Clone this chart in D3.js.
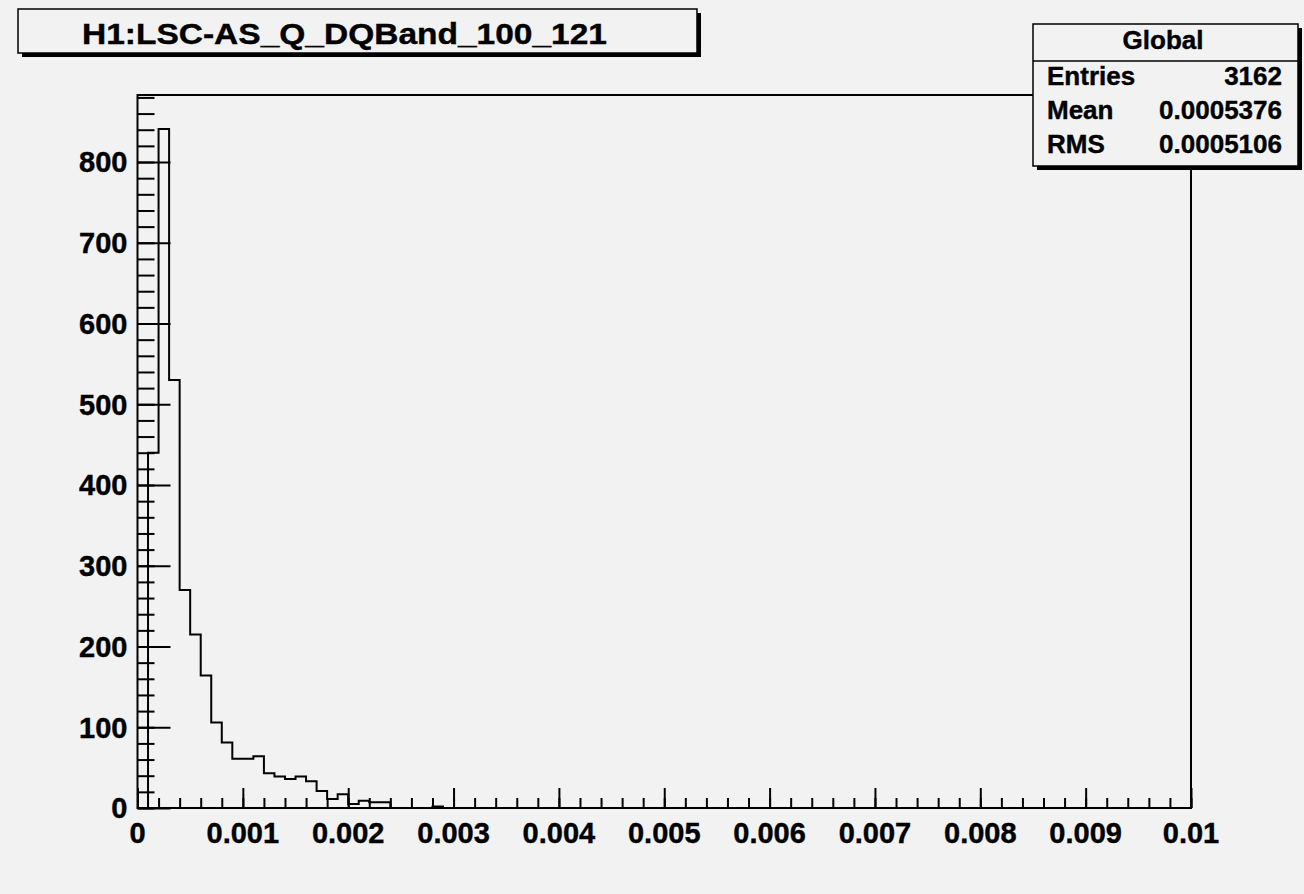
<!DOCTYPE html>
<html>
<head>
<meta charset="utf-8">
<script src="https://cdn.jsdelivr.net/npm/d3@7"></script>
<style>
  html, body { margin: 0; padding: 0; background: #f2f2f2; }
  svg text { font-family: "Liberation Sans", Arial, Helvetica, sans-serif; font-weight: bold; fill: #000; stroke: #000; stroke-width: 0.4; }
</style>
</head>
<body>
<div id="chart"></div>
<script>
// -----------------------------------------------------------------------------
// Data
// -----------------------------------------------------------------------------

var TITLE = "H1:LSC-AS_Q_DQBand_100_121";
var BIN_WIDTH = 0.0001;
var X_MIN = 0, X_MAX = 0.01;
var Y_MAX = 883;

// counts per bin, bins start at 0 and are BIN_WIDTH wide (rest are empty)
var binCounts = [0, 440, 841, 530, 270, 215, 164, 106, 81, 61,
                 61, 64, 43, 39, 36, 39, 33, 21, 11, 17,
                 5, 9, 7, 7, 0, 0, 0, 0, 2, 0];

var xTickValues = [0, 0.001, 0.002, 0.003, 0.004, 0.005, 0.006, 0.007, 0.008, 0.009, 0.01];
var xTickLabels = ["0", "0.001", "0.002", "0.003", "0.004", "0.005", "0.006", "0.007", "0.008", "0.009", "0.01"];
var yTickValues = [0, 100, 200, 300, 400, 500, 600, 700, 800];
var yTickLabels = ["0", "100", "200", "300", "400", "500", "600", "700", "800"];

var statsTitle = "Global";
var statsNames = ["Entries", "Mean", "RMS"];
var statsValues = ["3162", "0.0005376", "0.0005106"];

// -----------------------------------------------------------------------------
// Layout
// -----------------------------------------------------------------------------

var WIDTH = 1304, HEIGHT = 894;
var frame = {left: 137.5, right: 1191, top: 95, bottom: 808};

var svg = d3.select("#chart").append("svg")
    .attr("width", WIDTH)
    .attr("height", HEIGHT);

svg.append("rect")
    .attr("width", WIDTH)
    .attr("height", HEIGHT)
    .attr("fill", "#f2f2f2");

var xScale = d3.scaleLinear()
    .domain([X_MIN, X_MAX])
    .range([frame.left, frame.right]);

var yScale = d3.scaleLinear()
    .domain([0, Y_MAX])
    .range([frame.bottom, frame.top]);

// frame
svg.append("rect")
    .attr("x", frame.left)
    .attr("y", frame.top)
    .attr("width", frame.right - frame.left)
    .attr("height", frame.bottom - frame.top)
    .attr("fill", "none")
    .attr("stroke", "#000")
    .attr("stroke-width", 2);

// minor ticks (5 subdivisions per major)
var yMinor = d3.range(0, Y_MAX, 20);
var xMinor = d3.range(0, 51).map(function(i) { return i * 0.0002; });

// -----------------------------------------------------------------------------
// Axes
// -----------------------------------------------------------------------------

var yAxisMinor = d3.axisRight(yScale)
    .tickValues(yMinor)
    .tickSize(17)
    .tickFormat("");

var yAxisMajor = d3.axisRight(yScale)
    .tickValues(yTickValues)
    .tickSize(33)
    .tickFormat("");

var xAxisMinor = d3.axisTop(xScale)
    .tickValues(xMinor)
    .tickSize(10)
    .tickFormat("");

var xAxisMajor = d3.axisTop(xScale)
    .tickValues(xTickValues)
    .tickSize(20)
    .tickFormat("");

[yAxisMinor, yAxisMajor].forEach(function(ax) {
  svg.append("g")
      .attr("class", "yaxis")
      .attr("transform", "translate(" + frame.left + ",0)")
      .call(ax);
});

[xAxisMinor, xAxisMajor].forEach(function(ax) {
  svg.append("g")
      .attr("class", "xaxis")
      .attr("transform", "translate(0," + frame.bottom + ")")
      .call(ax);
});

svg.selectAll(".yaxis path, .xaxis path").remove();
svg.selectAll(".yaxis line, .xaxis line")
    .attr("stroke", "#000")
    .attr("stroke-width", 2);

// tick labels
svg.append("g").selectAll("text")
    .data(yTickValues)
  .enter().append("text")
    .attr("x", frame.left - 10)
    .attr("y", function(d) { return yScale(d); })
    .attr("dy", "0.36em")
    .attr("text-anchor", "end")
    .attr("font-size", 29)
    .text(function(d, i) { return yTickLabels[i]; });

svg.append("g").selectAll("text")
    .data(xTickValues)
  .enter().append("text")
    .attr("x", function(d) { return xScale(d); })
    .attr("y", 843)
    .attr("text-anchor", "middle")
    .attr("font-size", 29)
    .text(function(d, i) { return xTickLabels[i]; });

// -----------------------------------------------------------------------------
// Histogram outline
// -----------------------------------------------------------------------------

var points = [{x: 0, y: 0}];
binCounts.forEach(function(c, i) {
  points.push({x: i * BIN_WIDTH, y: c});
});
points.push({x: binCounts.length * BIN_WIDTH, y: 0});

var line = d3.line()
    .x(function(d) { return xScale(d.x); })
    .y(function(d) { return yScale(d.y); })
    .curve(d3.curveStepAfter);

svg.append("path")
    .datum(points)
    .attr("d", line)
    .attr("fill", "none")
    .attr("stroke", "#000")
    .attr("stroke-width", 2);

// -----------------------------------------------------------------------------
// Title box
// -----------------------------------------------------------------------------

function shadowBox(x, y, w, h) {
  svg.append("rect")
      .attr("x", x + 4).attr("y", y + 4)
      .attr("width", w).attr("height", h)
      .attr("fill", "#000");
  svg.append("rect")
      .attr("x", x).attr("y", y)
      .attr("width", w).attr("height", h)
      .attr("fill", "#f2f2f2")
      .attr("stroke", "#000")
      .attr("stroke-width", 1.5);
}

shadowBox(18, 9, 679, 44);
svg.append("text")
    .attr("x", 82)
    .attr("y", 43.5)
    .attr("font-size", 30)
    .attr("textLength", 525)
    .attr("lengthAdjust", "spacingAndGlyphs")
    .text(TITLE);

// -----------------------------------------------------------------------------
// Stats box
// -----------------------------------------------------------------------------

var sx = 1033, sy = 24, sw = 265, sh = 142;
shadowBox(sx, sy, sw, sh);

svg.append("line")
    .attr("x1", sx).attr("x2", sx + sw)
    .attr("y1", 61).attr("y2", 61)
    .attr("stroke", "#000")
    .attr("stroke-width", 1.5);

svg.append("text")
    .attr("x", 1163)
    .attr("y", 49)
    .attr("text-anchor", "middle")
    .attr("font-size", 26)
    .text(statsTitle);

var rowY = [85, 119, 153];
statsNames.forEach(function(name, i) {
  svg.append("text")
      .attr("x", 1047)
      .attr("y", rowY[i])
      .attr("font-size", 26)
      .text(name);
  svg.append("text")
      .attr("x", 1282)
      .attr("y", rowY[i])
      .attr("text-anchor", "end")
      .attr("font-size", 26)
      .text(statsValues[i]);
});
</script>
</body>
</html>
